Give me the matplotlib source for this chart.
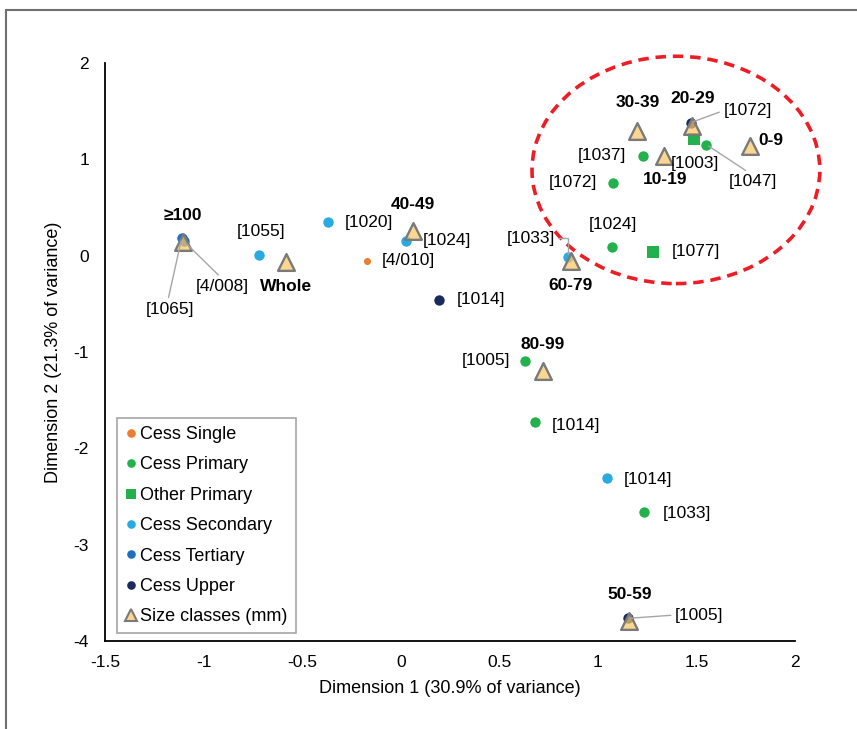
import matplotlib
matplotlib.use("Agg")
import matplotlib.pyplot as plt
from matplotlib.patches import Ellipse, Rectangle
from matplotlib.lines import Line2D

plt.rcParams['font.family'] = ['Liberation Sans', 'DejaVu Sans']

# ---------------- data ----------------
single_x = [-0.173]
single_y = [-0.055]
single_lab = ["[4/010]"]

primary_x = [1.231, 1.075, 1.551, 1.070, 0.632, 0.680, 1.234]
primary_y = [1.035, 0.758, 1.153, 0.093, -1.093, -1.727, -2.661]
primary_lab = ["[1037]", "[1072]", "[1047]", "[1024]", "[1005]", "[1014]", "[1033]"]

other_x = [1.488, 1.280]
other_y = [1.209, 0.042]
other_lab = ["[1003]", "[1077]"]

secondary_x = [-0.719, -0.370, 0.027, 1.045, 0.850]
secondary_y = [0.007, 0.347, 0.153, -2.308, -0.010]
secondary_lab = ["[1055]", "[1020]", "[1024]", "[1014]", "[1033]"]

tertiary_x = [-1.111, -1.100]
tertiary_y = [0.180, 0.150]
tertiary_lab = ["[1065]", "[4/008]"]

upper_x = [0.196, 1.471, 1.152]
upper_y = [-0.460, 1.381, -3.765]
upper_lab = ["[1014]", "[1072]", "[1005]"]

size_x = [-1.103, -0.582, 0.064, 0.862, 0.720, 1.200, 1.476, 1.337, 1.772, 1.160]
size_y = [0.145, -0.062, 0.260, -0.052, -1.194, 1.298, 1.347, 1.035, 1.139, -3.790]
size_lab = ["\u2265100", "Whole", "40-49", "60-79", "80-99", "30-39", "20-29", "10-19", "0-9", "50-59"]

x_ticks = [-1.5, -1, -0.5, 0, 0.5, 1, 1.5, 2]
x_ticklabels = ["-1.5", "-1", "-0.5", "0", "0.5", "1", "1.5", "2"]
y_ticks = [-4, -3, -2, -1, 0, 1, 2]
y_ticklabels = ["-4", "-3", "-2", "-1", "0", "1", "2"]

# ---------------- styles ----------------
C_SINGLE = "#ED7D31"
C_PRIMARY = "#22B14C"
C_SECOND = "#29ABE2"
C_TERT = "#1F6FBF"
C_UPPER = "#1B2A5C"
TRI_FACE = (0.98, 0.78, 0.40, 0.72)
TRI_EDGE = "#7A7A7A"
LEAD = "#A6A6A6"
FS = 12.5

fig = plt.figure(figsize=(8.57, 7.29), dpi=100)
ax = fig.add_axes([105/857, 1-641/729, 690/857, 578/729])

ax.scatter(single_x, single_y, s=26, color=C_SINGLE, zorder=3, linewidths=0)
ax.scatter(primary_x, primary_y, s=56, color=C_PRIMARY, zorder=3, linewidths=0)
ax.scatter(other_x, other_y, s=72, marker='s', color=C_PRIMARY, zorder=3, linewidths=0)
ax.scatter(secondary_x, secondary_y, s=56, color=C_SECOND, zorder=3, linewidths=0)
ax.scatter(tertiary_x, tertiary_y, s=56, color=C_TERT, zorder=3, linewidths=0)
ax.scatter(upper_x, upper_y, s=56, color=C_UPPER, zorder=3, linewidths=0)
ax.scatter(size_x, size_y, s=145, marker='^', facecolor=TRI_FACE, edgecolor=TRI_EDGE,
           linewidths=1.7, zorder=4)

ax.set_xlim(-1.5, 2)
ax.set_ylim(-4, 2)
ax.set_xticks(x_ticks)
ax.set_xticklabels(x_ticklabels)
ax.set_yticks(y_ticks)
ax.set_yticklabels(y_ticklabels)
ax.tick_params(axis='x', length=0, pad=10, labelsize=FS)
ax.tick_params(axis='y', length=0, pad=11.5, labelsize=FS)
for s in ['top', 'right']:
    ax.spines[s].set_visible(False)
for s in ['left', 'bottom']:
    ax.spines[s].set_linewidth(1.3)
    ax.spines[s].set_color('black')
ax.set_xlabel("Dimension 1 (30.9% of variance)", fontsize=13, labelpad=7)
ax.set_ylabel("Dimension 2 (21.3% of variance)", fontsize=13, labelpad=8)


def lab(x, y, text, dx, dy, ha='left', bold=False, line=None, conn="arc3"):
    kw = {}
    if line is not None:
        kw['arrowprops'] = dict(arrowstyle='-', color=LEAD, lw=1.0, shrinkA=1, shrinkB=2,
                                relpos=line, connectionstyle=conn)
    ax.annotate(text, (x, y), xytext=(dx, dy), textcoords='offset points',
                ha=ha, va='center', fontsize=FS,
                fontweight='bold' if bold else 'normal', zorder=6, **kw)


# point labels (offsets in points)
lab(single_x[0], single_y[0], single_lab[0], 10.8, 0)

p_off = [(-12.2, 0, 'right'), (-11.5, 0, 'right'), (33.8, -26.6, 'center'),
         (0.6, 16.3, 'center'), (-10.8, 0, 'right'), (12.2, -2.2, 'left'), (13.7, -1, 'left')]
for i, (dx, dy, ha) in enumerate(p_off):
    line = (0.45, 1.0) if i == 2 else None
    lab(primary_x[i], primary_y[i], primary_lab[i], dx, dy, ha, line=line)

lab(other_x[0], other_y[0], other_lab[0], 0.5, -17.8, 'center')
lab(other_x[1], other_y[1], other_lab[1], 13.7, 0)

s_off = [(1.5, 16.6, 'center'), (12.2, 0, 'left'), (12.2, 0, 'left'), (12.2, -1.4, 'left')]
for i, (dx, dy, ha) in enumerate(s_off):
    lab(secondary_x[i], secondary_y[i], secondary_lab[i], dx, dy, ha)
lab(secondary_x[4], secondary_y[4], secondary_lab[4], -9.6, 13.2, 'right',
    line=(1.0, 0.5), conn="angle,angleA=0,angleB=90,rad=0")

lab(tertiary_x[0], tertiary_y[0], tertiary_lab[0], -8.4, -51, 'center', line=(0.45, 1.0))
lab(tertiary_x[1], tertiary_y[1], tertiary_lab[1], 27.6, -32.4, 'center', line=(0.5, 1.0))

lab(upper_x[0], upper_y[0], upper_lab[0], 12.2, 0)
lab(upper_x[1], upper_y[1], upper_lab[1], 23.5, 8.6, 'left', line=(0.0, 0.5))
lab(upper_x[2], upper_y[2], upper_lab[2], 34, 2.4, 'left', line=(0.0, 0.5))

z_off = [(0, 19.2), (0, -18.2), (0, 18.5), (0, -18.2), (0, 18.5),
         (0, 19.9), (0.7, 19.4), (0.5, -17.3), (5.8, 3.6), (0.5, 19.2)]
for i, (dx, dy) in enumerate(z_off):
    ha = 'left' if size_lab[i] == '0-9' else 'center'
    lab(size_x[i], size_y[i], size_lab[i], dx, dy, ha, bold=True)

# red dashed ellipse highlighting the cluster
ell = Ellipse((1.396, 0.89), 1.46, 2.36, fill=False, edgecolor='#EE1C25',
              lw=2.6, linestyle=(0, (2.9, 1.9)), zorder=2, clip_on=False)
ax.add_patch(ell)

# legend
handles = [
    Line2D([], [], marker='o', ls='none', color=C_SINGLE, ms=6.2, mew=0),
    Line2D([], [], marker='o', ls='none', color=C_PRIMARY, ms=6.2, mew=0),
    Line2D([], [], marker='s', ls='none', color=C_PRIMARY, ms=7.2, mew=0),
    Line2D([], [], marker='o', ls='none', color=C_SECOND, ms=6.2, mew=0),
    Line2D([], [], marker='o', ls='none', color=C_TERT, ms=6.2, mew=0),
    Line2D([], [], marker='o', ls='none', color=C_UPPER, ms=6.2, mew=0),
    Line2D([], [], marker='^', ls='none', markerfacecolor=TRI_FACE,
           markeredgecolor=TRI_EDGE, ms=8, mew=1.5),
]
names = ["Cess Single", "Cess Primary", "Other Primary", "Cess Secondary",
         "Cess Tertiary", "Cess Upper", "Size classes (mm)"]
leg = ax.legend(handles, names, loc='upper left', bbox_to_anchor=(117/857, 1-418/729),
                bbox_transform=fig.transFigure, fontsize=13, frameon=True, fancybox=False,
                borderpad=0.45, handlelength=0.7, handletextpad=0.15, labelspacing=0.74,
                borderaxespad=0, framealpha=1)
leg.get_frame().set_edgecolor('#A6A6A6')
leg.get_frame().set_linewidth(1.2)
leg.set_zorder(7)

# outer chart border (partially cropped in the reference)
fig.patches.append(Rectangle((6/857, -0.2), 2, 1 - 10/729 + 0.2, transform=fig.transFigure,
                             fill=False, edgecolor='#707070', lw=1.5))

fig.savefig("out.png", dpi=100)
